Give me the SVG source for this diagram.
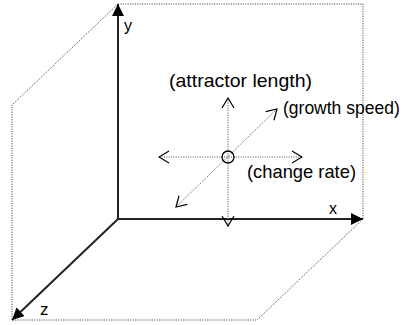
<svg xmlns="http://www.w3.org/2000/svg" width="408" height="325" viewBox="0 0 408 325">
<style>
.dot{fill:none;stroke:#555;stroke-width:1;stroke-dasharray:1.2,1.2}
.axis{fill:none;stroke:#222;stroke-width:2}
.guide{fill:none;stroke:#666;stroke-width:1;stroke-dasharray:1.2,1.2}
text{font-family:"Liberation Sans",Arial,sans-serif;fill:#000}
.lab{font-size:19px}
.ax{font-size:16px}
</style>
<defs>
<marker id="fill" markerUnits="userSpaceOnUse" viewBox="0 0 12 12" refX="12" refY="6" markerWidth="12" markerHeight="12" orient="auto">
<path d="M0,0 L12,6 L0,12 Z" fill="#000"/>
</marker>
<marker id="open" markerUnits="userSpaceOnUse" viewBox="0 0 12 14" refX="11" refY="7" markerWidth="12" markerHeight="14" orient="auto-start-reverse">
<path d="M1,1 L11,7 L1,13" fill="none" stroke="#000" stroke-width="1.2"/>
</marker>
</defs>
<g id="box">
<path class="dot" d="M118,4 L363,4 L363,219 L257,320 L12,320 L12,105 Z"/>
</g>
<g id="connectors">
<line class="axis" x1="118" y1="219" x2="118" y2="4" marker-end="url(#fill)"/>
<line class="axis" x1="117" y1="219" x2="363" y2="219" marker-end="url(#fill)"/>
<line class="axis" x1="118" y1="219" x2="12" y2="320" marker-end="url(#fill)"/>
<line class="guide" x1="228" y1="98" x2="228" y2="226" marker-start="url(#open)" marker-end="url(#open)"/>
<line class="guide" x1="159" y1="157" x2="302" y2="157" marker-start="url(#open)" marker-end="url(#open)"/>
<line class="guide" x1="176" y1="207" x2="277" y2="109" marker-start="url(#open)" marker-end="url(#open)"/>
</g>
<g id="center">
<circle cx="228" cy="157" r="6" fill="none" stroke="#000" stroke-width="1.3"/>
</g>
<g id="labels">
<text class="ax" x="124" y="31">y</text>
<text class="ax" x="329" y="214">x</text>
<text class="ax" x="40" y="315" style="font-size:17px">z</text>
<text class="lab" x="169" y="87" textLength="143" lengthAdjust="spacingAndGlyphs">(attractor length)</text>
<text class="lab" x="283" y="114" style="font-size:17.5px">(growth speed)</text>
<text class="lab" x="247" y="178" textLength="109" lengthAdjust="spacingAndGlyphs">(change rate)</text>
</g>
</svg>
